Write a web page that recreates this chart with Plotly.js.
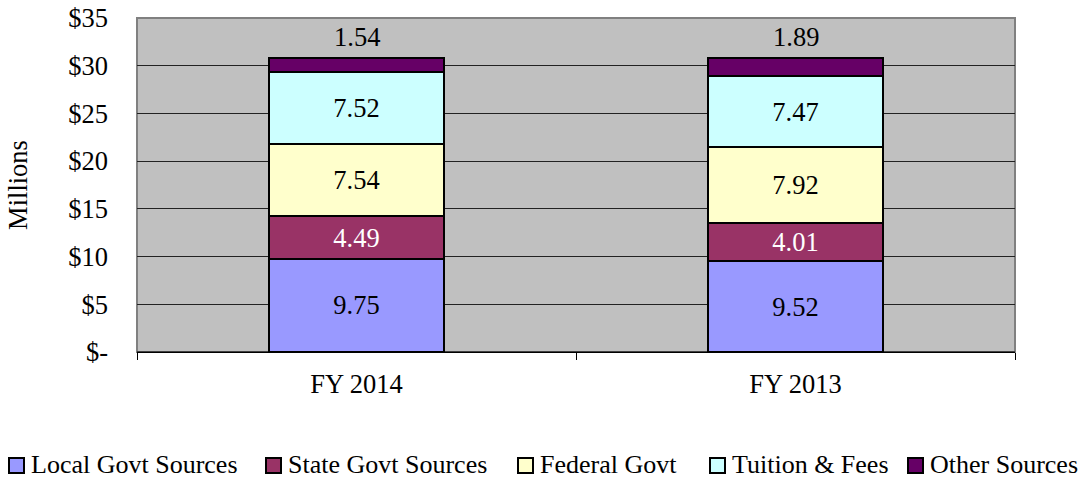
<!DOCTYPE html>
<html><head><meta charset="utf-8">
<script src="https://cdn.plot.ly/plotly-3.0.1.min.js"></script>
<style>html,body{margin:0;padding:0;background:#fff}#chart{width:1088px;height:480px}</style>
</head><body><div id="chart"></div>
<script>
const categories = ['FY 2014', 'FY 2013'];
const localGovt = [9.75, 9.52];
const stateGovt = [4.49, 4.01];
const federalGovt = [7.54, 7.92];
const tuitionFees = [7.52, 7.47];
const otherSources = [1.54, 1.89];
const seriesNames = ['Local Govt Sources', 'State Govt Sources', 'Federal Govt', 'Tuition & Fees', 'Other Sources'];
const tickVals = [0, 5, 10, 15, 20, 25, 30, 35];
const tickText = ['$-', '$5', '$10', '$15', '$20', '$25', '$30', '$35'];

const FONT = 'Liberation Serif, Times New Roman, serif';
const FS = 26.5;
const LFS = 26;
const colors = ['#9999FF', '#993366', '#FFFFCC', '#CCFFFF', '#660066'];
const textColors = ['#000', '#fff', '#000', '#000', '#000'];
const allSeries = [localGovt, stateGovt, federalGovt, tuitionFees, otherSources];

const W = 1088, H = 480, ML = 137, MR = 73, MT = 18, MB = 128;
const PW = W - ML - MR, PH = H - MT - MB;
const px2x = p => (p - ML) / PW;
const px2y = p => (H - MB - p) / PH;

const traces = allSeries.map((vals, i) => ({
  type: 'bar', name: seriesNames[i], x: categories, y: vals,
  marker: {color: colors[i], line: {color: '#000', width: 2}},
  width: 0.4,
  text: i === 4 ? vals.map(() => '') : vals.map(v => v.toFixed(2)),
  textposition: i === 4 ? 'none' : 'inside', insidetextanchor: 'middle',
  textangle: 0, constraintext: 'none',
  insidetextfont: {family: FONT, size: FS, color: textColors[i]},
  hoverinfo: 'skip', showlegend: false
}));

const totals = categories.map((c, j) => allSeries.reduce((s, a) => s + a[j], 0));
const annotations = categories.map((c, j) => ({
  x: c, y: totals[j], xref: 'x', yref: 'y', text: otherSources[j].toFixed(2),
  showarrow: false, yanchor: 'bottom', yshift: 4,
  font: {family: FONT, size: FS, color: '#000'}
}));

// manual legend (single row, tight spacing as in the reference)
const legendX = [9, 266, 518, 710, 908];
const legendSymTop = 458, legendSym = 15, legendTextY = 464;
const shapes = [
  {type: 'rect', xref: 'paper', yref: 'paper', x0: 0, x1: 1, y0: 0, y1: 1, line: {color: '#808080', width: 2}, layer: 'below'},
  {type: 'line', xref: 'paper', yref: 'paper', x0: 0, x1: 1, y0: 0, y1: 0, line: {color: '#000', width: 1}}
];
seriesNames.forEach((n, i) => {
  const x0 = legendX[i];
  shapes.push({type: 'rect', xref: 'paper', yref: 'paper',
    x0: px2x(x0), x1: px2x(x0 + legendSym), y0: px2y(legendSymTop + legendSym), y1: px2y(legendSymTop),
    fillcolor: colors[i], line: {color: '#000', width: 2}});
  annotations.push({xref: 'paper', yref: 'paper', x: px2x(x0 + legendSym + 5), y: px2y(legendTextY),
    xanchor: 'left', yanchor: 'middle', showarrow: false, text: n.replace('&', '&amp;'),
    font: {family: FONT, size: LFS, color: '#000'}});
});

const layout = {
  width: W, height: H,
  margin: {l: ML, r: MR, t: MT, b: MB},
  paper_bgcolor: '#fff', plot_bgcolor: '#C0C0C0',
  barmode: 'stack', bargap: 0.6,
  font: {family: FONT, size: FS, color: '#000'},
  xaxis: {
    type: 'category', tickson: 'boundaries', ticks: 'outside', ticklen: 7, tickcolor: '#000', tickwidth: 1,
    showline: true, linecolor: '#000', linewidth: 1, showgrid: false,
    tickfont: {family: FONT, size: FS}, ticklabelstandoff: 8, fixedrange: true
  },
  yaxis: {
    range: [0, 35], tickvals: tickVals, ticktext: tickText, ticks: '',
    showgrid: true, gridcolor: '#222', gridwidth: 1, zeroline: false, showline: false,
    tickfont: {family: FONT, size: FS}, ticklabelstandoff: 28,
    title: {text: 'Millions', font: {family: FONT, size: FS}, standoff: 32}, fixedrange: true
  },
  shapes: shapes,
  annotations: annotations,
  showlegend: false
};

Plotly.newPlot('chart', traces, layout, {displayModeBar: false, staticPlot: true});
</script></body></html>
